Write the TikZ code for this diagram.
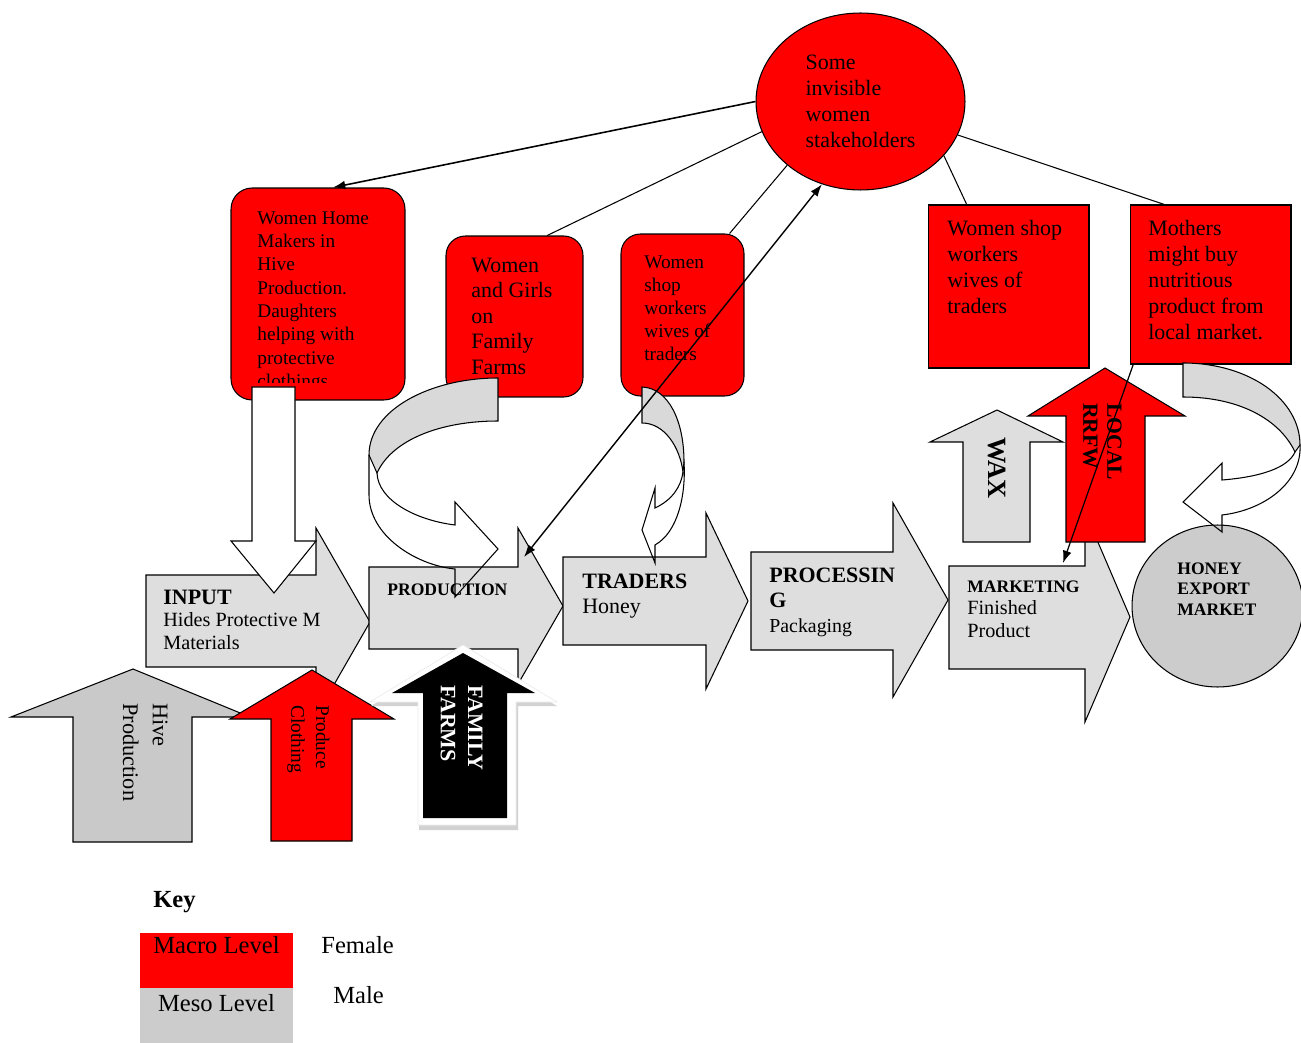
\documentclass[tikz,border=0pt]{standalone}
\usepackage{fontspec}
\setmainfont{Liberation Serif}
\usepackage{tikz}
\usetikzlibrary{arrows.meta}
\usetikzlibrary{shapes.geometric}
\definecolor{macro}{HTML}{FF0000}
\definecolor{meso}{HTML}{CCCCCC}
\definecolor{chain}{HTML}{DEDEDE}
\definecolor{hive}{HTML}{C9C9C9}
\definecolor{bend}{HTML}{D9D9D9}
\definecolor{shadowgray}{HTML}{D2D2D2}
\tikzset{
  >={Latex[length=7pt,width=5pt]},
  redbox/.style={draw, fill=macro, line width=0.6pt, inner sep=0pt},
  txt/.style={inner sep=0pt, align=left, anchor=north west},
  rot/.style={inner sep=0pt, rotate=-90},
  chainarrow/.style={draw, fill=chain, line width=0.6pt},
  bendpart/.style={draw, fill=bend, line width=0.6pt},
  uparrow/.style={draw, line width=0.6pt},
  keybox/.style={inner sep=0pt, minimum width=3.06cm, minimum height=1.1cm},
  stakeoval/.style={ellipse, draw, fill=macro, line width=0.6pt, inner sep=0pt, align=left, minimum width=4.18cm, minimum height=3.54cm, font=\fontsize{12.5}{14.9}\selectfont},
}

\begin{document}
\begin{tikzpicture}[x=0.02cm, y=-0.02cm]
\useasboundingbox (0,0) rectangle (1301,1043);

\node[stakeoval] (stake) at (860.5,101.5) {Some\\invisible\\women\\stakeholders};

\node[redbox, rounded corners=12pt, minimum width=3.48cm, minimum height=4.24cm] (home) at (318,294) {};
\begin{scope}
\clip (231,188) rectangle (405,383);
\node[txt, font=\fontsize{11}{13.3}\selectfont] (hometext) at (257,211) {Women Home\\Makers in\\Hive\\Production.\\Daughters\\helping with\\protective\\clothings};
\end{scope}
\node[redbox, rounded corners=11pt, minimum width=2.74cm, minimum height=3.22cm] (girls) at (514.5,316.5) {};
\node[txt, font=\fontsize{12.5}{14.5}\selectfont] (girlstext) at (471,257.4) {Women\\and Girls\\on\\Family\\Farms};
\node[redbox, rounded corners=11pt, minimum width=2.46cm, minimum height=3.24cm] (shopA) at (682.5,315) {};
\node[txt, font=\fontsize{11}{13.2}\selectfont] (shopAtext) at (644,255) {Women\\shop\\workers\\wives of\\traders};
\node[redbox, minimum width=3.22cm, minimum height=3.26cm] (shopB) at (1008.5,286.5) {};
\node[txt, font=\fontsize{12.5}{14.7}\selectfont] (shopBtext) at (947,220.4) {Women shop\\workers\\wives of\\traders};
\node[redbox, minimum width=3.22cm, minimum height=3.18cm] (mothers) at (1210.5,284.5) {};
\node[txt, font=\fontsize{12.5}{14.7}\selectfont] (motherstext) at (1148,220.4) {Mothers\\might buy\\nutritious\\product from\\local market.};

\draw[->, line width=0.9pt] (stake.west) -- (home.82);
\draw[line width=0.6pt] (stake.197) -- (girls.68);
\draw[line width=0.6pt] (stake.221) -- (shopA.60);
\draw[line width=0.6pt] (stake.-33) -- (shopB.117);
\draw[line width=0.6pt] (stake.-19) -- (mothers.120);

\draw[bendpart] (498,378) .. controls (430,378) and (369,410) .. (369,455) -- (377,473) .. controls (392,440) and (440,421) .. (498,421) -- cycle;

\draw[chainarrow] (146,575) -- (316,575) -- (316,528) -- (370,622) -- (316,716) -- (316,667) -- (146,667) -- cycle;
\draw[line width=0.6pt, fill=white] (252,387) -- (295,387) -- (295,541) -- (316,541) -- (274,593) -- (231,541) -- (252,541) -- cycle;
\draw[chainarrow] (369,567) -- (518,567) -- (518,528) -- (563,606) -- (518,684) -- (518,649) -- (369,649) -- cycle;
\draw[chainarrow] (563,557) -- (706,557) -- (706,513) -- (748,601) -- (706,689) -- (706,645) -- (563,645) -- cycle;
\draw[chainarrow] (751,552) -- (893,552) -- (893,503) -- (948,600) -- (893,697) -- (893,650) -- (751,650) -- cycle;
\draw[chainarrow] (949,566) -- (1085,566) -- (1085,512) -- (1130,617) -- (1085,722) -- (1085,669) -- (949,669) -- cycle;

\draw[line width=0.6pt] (369,455) -- (369,495) .. controls (369,535) and (415,565) .. (455,569) -- (455,597) -- (498,549) -- (455,502) -- (455,525) .. controls (415,520) and (378,500) .. (377,473);

\draw[bendpart] (642,387) .. controls (668,388) and (684,420) .. (684,462) -- (683,472) .. controls (680,448) and (665,423) .. (642,423) -- cycle;
\draw[line width=0.6pt] (684,462) .. controls (686,495) and (678,532) .. (655,545) -- (655,563) -- (642,530) -- (655,488) -- (655,508) .. controls (672,500) and (681,487) .. (683,472);

\draw[uparrow, fill=chain] (963,542) -- (963,442) -- (930,442) -- (997,410) -- (1063,442) -- (1030,442) -- (1030,542) -- cycle;
\node[rot, font=\bfseries\fontsize{15}{17}\selectfont] (wax) at (997,468) {WAX};
\draw[uparrow, fill=macro] (1066,542) -- (1066,416) -- (1028,416) -- (1105,368) -- (1185,416) -- (1145,416) -- (1145,542) -- cycle;
\node[rot, anchor=north west, align=left, font=\bfseries\fontsize{12.3}{13.6}\selectfont] (rrfw) at (1122,403) {LOCAL\\RRFW};

\node[ellipse, draw, fill=meso, line width=0.6pt, inner sep=0pt, minimum width=3.42cm, minimum height=3.24cm] (honey) at (1217.5,606) {};
\node[txt, font=\bfseries\fontsize{10}{11.6}\selectfont] (honeytext) at (1177,562.3) {HONEY\\EXPORT\\MARKET};
\draw[bendpart] (1183,363) .. controls (1250,363) and (1300,400) .. (1300,445) -- (1295,452) .. controls (1280,420) and (1240,397) .. (1183,397) -- cycle;
\draw[line width=0.6pt] (1300,445) .. controls (1302,482) and (1265,510) .. (1222,515) -- (1222,532) -- (1183,502) -- (1222,463) -- (1222,480) .. controls (1260,477) and (1288,468) .. (1295,452);

\node[txt, font=\fontsize{11.5}{13}\selectfont] (inputtext) at (163,589.4) {{\fontsize{12.5}{13}\selectfont\bfseries INPUT}\\Hides Protective M\\Materials};
\node[txt, font=\bfseries\fontsize{10}{12}\selectfont] (prodtext) at (387,583.3) {PRODUCTION};
\node[txt, font=\fontsize{12.5}{14.2}\selectfont] (tradtext) at (582,573.4) {\textbf{TRADERS}\\Honey};
\node[txt, font=\fontsize{12.5}{14.3}\selectfont] (proctext) at (769,567.4) {\textbf{PROCESSIN}\\\textbf{G}\\{\fontsize{11.3}{13}\selectfont Packaging}};
\node[txt, font=\fontsize{11.5}{12.8}\selectfont] (mkttext) at (967,580.3) {{\fontsize{10}{12.8}\selectfont\bfseries MARKETING}\\Finished\\Product};

\draw[uparrow, fill=hive] (73,842) -- (73,717) -- (11,717) -- (133,669) -- (250,717) -- (192,717) -- (192,842) -- cycle;
\node[rot, anchor=north west, align=left, font=\fontsize{12.7}{17}\selectfont] (hivetext) at (168,703) {Hive\\Production};
\draw[uparrow, fill=macro] (271,841) -- (271,719) -- (230,719) -- (312,670) -- (394,719) -- (352,719) -- (352,841) -- cycle;
\node[rot, anchor=north west, align=left, font=\fontsize{11}{14.2}\selectfont] (clothtext) at (330,705) {Produce\\Clothing};
\fill[shadowgray] (419,830) -- (419,706) -- (371,706) -- (463,650) -- (557,706) -- (518,706) -- (518,830) -- cycle;
\draw[line width=0.4pt, draw=white!85!gray, fill=white] (418,825) -- (418,702) -- (370,702) -- (463,645) -- (557,702) -- (516,702) -- (516,825) -- cycle;
\fill[black] (423,818) -- (423,693) -- (392,693) -- (463,653) -- (535,693) -- (507,693) -- (507,818) -- cycle;
\node[rot, anchor=north west, align=left, text=white, font=\bfseries\fontsize{12.5}{15.5}\selectfont] (farmtext) at (483,685) {FAMILY\\FARMS};

\node[anchor=base west, inner sep=0pt, font=\bfseries\fontsize{14}{16}\selectfont] (key) at (153,907) {Key};
\node[keybox, fill=macro] (macrobox) at (216.5,960.5) {};
\node[keybox, fill=meso] (mesobox) at (216.5,1015.5) {};
\node[anchor=base, inner sep=0pt, font=\fontsize{14}{16}\selectfont] (macrotext) at (216.5,953) {Macro Level};
\node[anchor=base, inner sep=0pt, font=\fontsize{14}{16}\selectfont] (mesotext) at (216.5,1011) {Meso Level};
\node[anchor=base west, inner sep=0pt, font=\fontsize{14}{16}\selectfont] (female) at (321,953) {Female};
\node[anchor=base west, inner sep=0pt, font=\fontsize{14}{16}\selectfont] (male) at (333,1003) {Male};

\coordinate (prodtip) at (524,557);
\coordinate (mkttip) at (1063,563);
\draw[<->, line width=0.8pt] (prodtip) -- (stake.245);
\draw[->, line width=0.7pt] (mothers.-134) -- (mkttip);
\end{tikzpicture}
\end{document}
